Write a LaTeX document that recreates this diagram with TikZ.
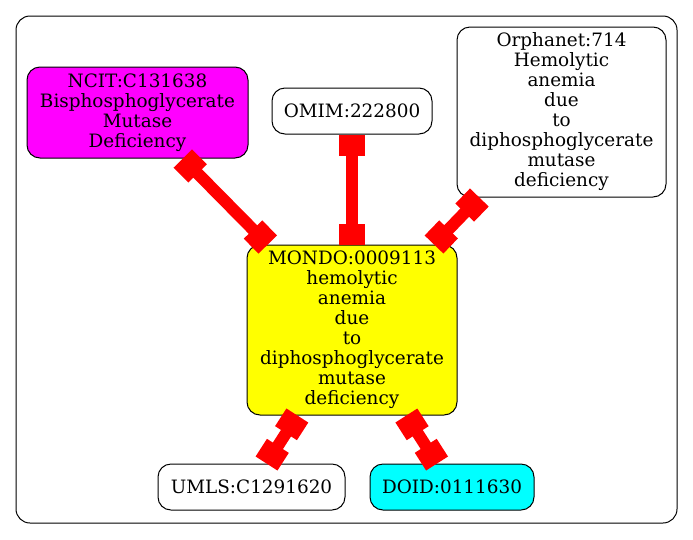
\documentclass[tikz,border=0pt]{standalone}
\usepackage{fontspec}
\setmainfont{DejaVu Serif}
\usetikzlibrary{arrows.meta}
\definecolor{gmag}{RGB}{255,0,255}
\definecolor{gcyan}{RGB}{0,255,255}
\definecolor{gyel}{RGB}{255,255,0}
\definecolor{gred}{RGB}{255,0,0}
\begin{document}
\begin{tikzpicture}[x=1pt,y=-1pt,
  gnode/.style={draw=black,line width=1pt,rounded corners=13pt,inner sep=0pt,align=center,
    font=\fontsize{18.4}{20}\selectfont},
  gedge/.style={draw=gred,line width=12pt,{Square[length=21pt,width=26pt]}-{Square[length=21pt,width=26pt]}}]
\useasboundingbox (0,0) rectangle (693,539);
\draw[line width=1pt,rounded corners=14pt] (16,16) rectangle (677,523);
\node[gnode,fill=gmag,minimum width=221pt,minimum height=91pt] (ncit) at (137.5,112.5)
  {NCIT:C131638\\Bisphosphoglycerate\\Mutase\\Deficiency};
\node[gnode,fill=white,minimum width=160pt,minimum height=46pt] (omim) at (352,111) {OMIM:222800};
\node[gnode,fill=white,minimum width=209pt,minimum height=170pt] (orpha) at (561.5,112)
  {Orphanet:714\\Hemolytic\\anemia\\due\\to\\diphosphoglycerate\\mutase\\deficiency};
\node[gnode,fill=gyel,minimum width=210pt,minimum height=170pt] (mondo) at (352,330)
  {MONDO:0009113\\hemolytic\\anemia\\due\\to\\diphosphoglycerate\\mutase\\deficiency};
\node[gnode,fill=white,minimum width=187pt,minimum height=46pt] (umls) at (251.5,487) {UMLS:C1291620};
\node[gnode,fill=gcyan,minimum width=164pt,minimum height=46pt] (doid) at (452,487) {DOID:0111630};
\draw[gedge] (ncit) -- (mondo);
\draw[gedge] (omim) -- (mondo);
\draw[gedge] (orpha) -- (mondo);
\draw[gedge] (mondo) -- (umls);
\draw[gedge] (mondo) -- (doid);
\end{tikzpicture}
\end{document}
